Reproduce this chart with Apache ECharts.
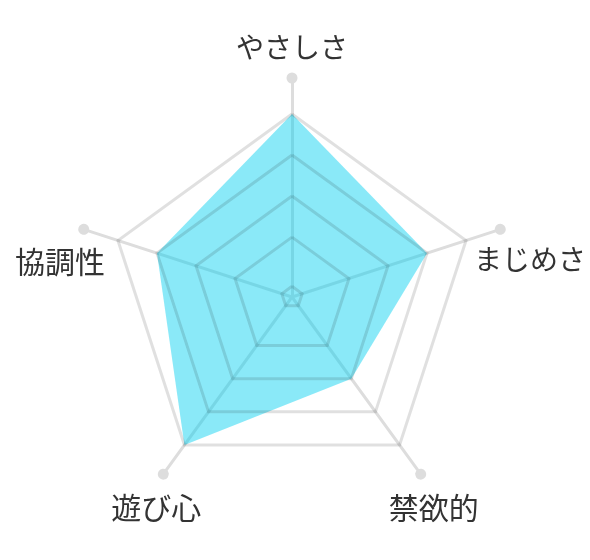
<!DOCTYPE html>
<html>
<head>
<meta charset="utf-8">
<script src="https://cdn.jsdelivr.net/npm/echarts@6/dist/echarts.min.js"></script>
<style>
html, body { margin: 0; padding: 0; background: #fff; }
#main { width: 590px; height: 560px; }
</style>
</head>
<body>
<div id="main"></div>
<script>
// 項目と点数（ECharts は反時計回りに並べるので、上から左回りの順）
var names = ['やさしさ', '協調性', '遊び心', '禁欲的', 'まじめさ'];
var scores = [5, 4, 5, 3, 4];
// 目盛り（中心の値〜外周の値）と補助線のレベル
var scaleMin = 0.54;
var scaleMax = 5;
var ringLevels = [0.8, 2, 3, 4];

var myChart = echarts.init(document.getElementById('main'));

var center = [292, 297];
var outerR = 183;
var font = 'Noto Sans CJK JP';

var indicator = names.map(function (n) {
    return { name: n, min: scaleMin, max: scaleMax };
});

// 1本ずつ補助線を描くためのレーダー（塗りの上に半透明で重ねる）
function ring(level) {
    return {
        center: center,
        radius: outerR * (level - scaleMin) / (scaleMax - scaleMin),
        indicator: indicator,
        splitNumber: 1,
        z: 3,
        axisName: { show: false },
        axisLine: { show: false },
        splitArea: { show: false },
        splitLine: { lineStyle: { color: 'rgba(0,0,0,0.12)', width: 3 } }
    };
}

// ラベルの位置調整（上, 左上, 左下, 右下, 右上）
var pads = [[0, 0, 29, 0], [75, 17, 0, 0], [40, 0, 0, 5], [40, 0, 0, 7], [69, 0, 0, 29]];
var sizes = [28, 30, 30, 30, 28];
var rich = {};
pads.forEach(function (p, i) {
    rich['k' + i] = { padding: p, fontSize: sizes[i], fontFamily: font, color: '#333' };
});

var axisRadar = {
    center: center,
    radius: 219,
    indicator: indicator,
    splitNumber: 1,
    nameGap: 16,
    axisName: {
        color: '#333',
        fontSize: 28,
        fontFamily: font,
        align: 'center',
        verticalAlign: 'middle',
        formatter: function (value) {
            return '{k' + names.indexOf(value) + '|' + value + '}';
        },
        rich: rich
    },
    axisLine: {
        lineStyle: { color: '#dddddd', width: 3 },
        symbol: ['none', 'circle'],
        symbolSize: [11, 11]
    },
    splitLine: { show: false },
    splitArea: { show: false }
};

var dataRadar = ring(scaleMax);

var option = {
    animation: false,
    radar: [axisRadar].concat(ringLevels.map(ring)).concat([dataRadar]),
    series: [{
        type: 'radar',
        radarIndex: ringLevels.length + 1,
        symbol: 'none',
        lineStyle: { width: 0 },
        areaStyle: { color: 'rgba(0, 207, 240, 0.46)', opacity: 1 },
        data: [{ value: scores, name: '点数' }]
    }]
};

myChart.setOption(option);
</script>
</body>
</html>
